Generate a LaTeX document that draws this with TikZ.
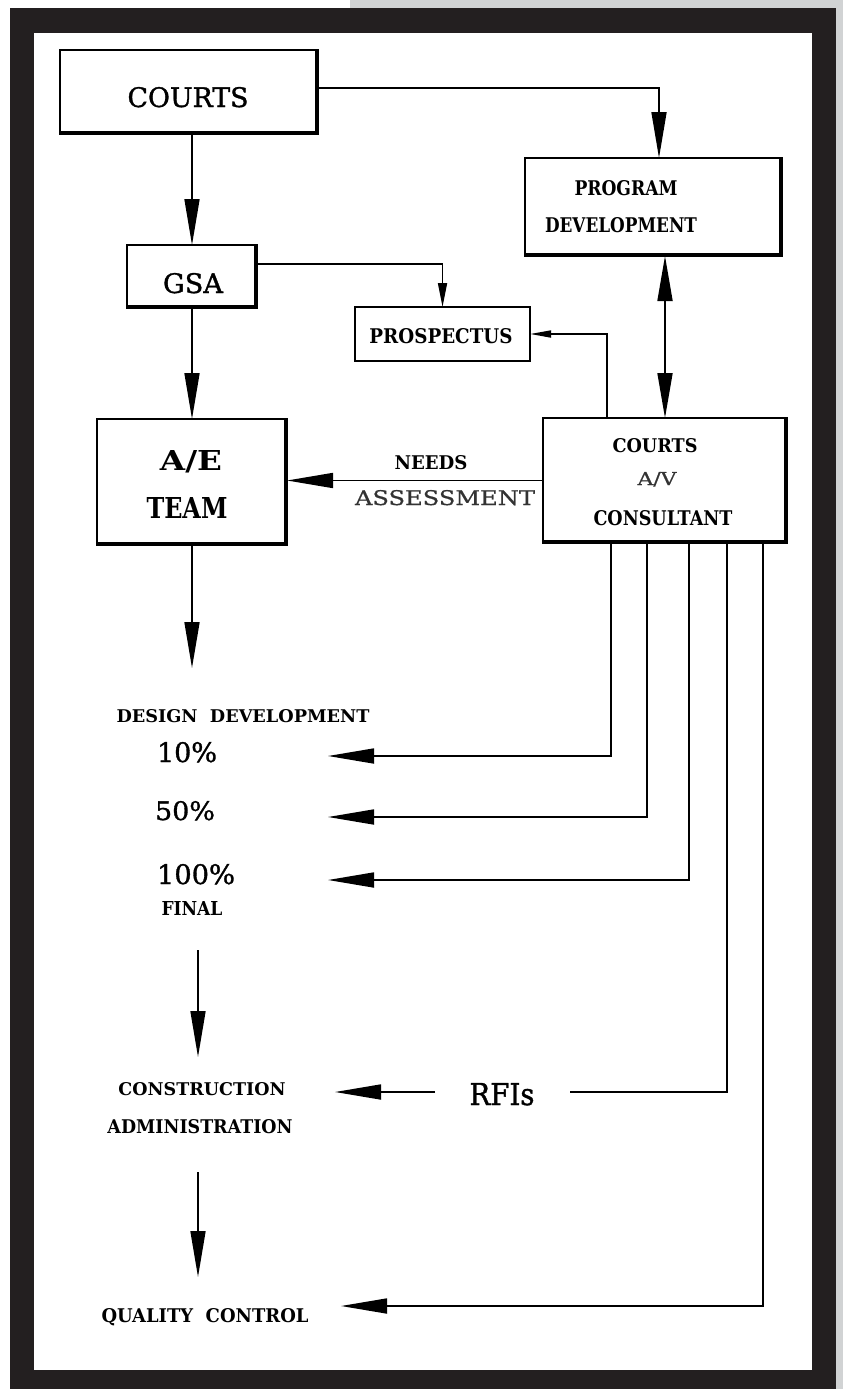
\documentclass[tikz,border=0pt]{standalone}
\usepackage{fontspec}
\setmainfont{DejaVu Serif}
\newfontfamily\medfont[FakeBold=1.2]{DejaVu Serif}
\newfontfamily\semifont[FakeBold=0.6]{DejaVu Serif}
\usetikzlibrary{arrows.meta}
\definecolor{framec}{HTML}{231F20}
\definecolor{stripc}{HTML}{D1D3D4}
\definecolor{softk}{HTML}{333333}
\newcommand\fitt[3]{\resizebox{#1pt}{#2pt}{#3}}
\begin{document}
\begin{tikzpicture}[x=1pt,y=-1pt,
  box/.style={draw, line width=1.6pt, inner sep=0pt, outer sep=0pt},
  lbl/.style={inner sep=0pt, outer sep=0pt, anchor=base},
  conn/.style={line width=1.7pt},
  big/.style={conn, -{Triangle[length=46pt,width=15pt]}},
  bothbig/.style={conn, {Triangle[length=45pt,width=15pt]}-{Triangle[length=45pt,width=15pt]}},
  smallA/.style={conn, -{Triangle[length=24pt,width=9pt]}},
  smallB/.style={conn, -{Triangle[length=21pt,width=7pt]}}
]
\useasboundingbox (0,0) rectangle (843,1389);
% frame
\fill[white] (0,0) rectangle (843,1389);
\fill[stripc] (350,0) rectangle (843,8);
\fill[stripc] (836,0) rectangle (843,1389);
\fill[framec] (10,8) rectangle (836,1389);
\fill[white] (34,33) rectangle (812,1370);

% boxes
\node[box, minimum width=258pt, minimum height=84pt] (courts) at (189,92) {};
\node[box, minimum width=130pt, minimum height=63pt] (gsa) at (192,276.5) {};
\node[box, minimum width=257pt, minimum height=98pt] (pd) at (653.5,207) {};
\node[box, minimum width=175pt, minimum height=54pt] (pros) at (442.5,334) {};
\node[box, minimum width=244pt, minimum height=125pt] (cav) at (665,480.5) {};
\node[box, minimum width=190pt, minimum height=126pt] (ae) at (192,482) {};
\foreach \b in {courts,gsa,pd,cav,ae}
  \draw[line width=4pt] ([xshift=-1.2pt]\b.north east) -- ([xshift=-1.2pt,yshift=1.2pt]\b.south east) -- ([yshift=1.2pt]\b.south west);

% texts
\node[lbl] (courtsT) at (188,107) {\fitt{121}{20}{\medfont COURTS}};
\node[lbl] (gsaT) at (193,293) {\fitt{60}{20}{\medfont GSA}};
\node[lbl] (pdT1) at (626,195) {\fitt{103}{15}{\bfseries PROGRAM}};
\node[lbl] (pdT2) at (621,232) {\fitt{152}{15}{\bfseries DEVELOPMENT}};
\node[lbl] (prosT) at (441,343) {\fitt{143}{15}{\bfseries PROSPECTUS}};
\node[lbl] (cavT1) at (655,452) {\fitt{85}{14}{\bfseries COURTS}};
\node[lbl] (cavT2) at (657,485) {\fitt{39}{13}{\semifont\color{softk}A/V}};
\node[lbl] (cavT3) at (663,525) {\fitt{139}{15}{\bfseries CONSULTANT}};
\node[lbl] (aeT1) at (191,470) {\fitt{62}{20}{\bfseries A/E}};
\node[lbl] (aeT2) at (187,518) {\fitt{81}{21}{\bfseries TEAM}};
\node[lbl] (needs) at (431,469) {\fitt{73}{14}{\bfseries NEEDS}};
\node[lbl] (assess) at (445,505) {\fitt{180}{15}{\semifont\color{softk}ASSESSMENT}};
\node[lbl] (dd) at (243,722) {\fitt{253}{13}{\bfseries DESIGN\ \ DEVELOPMENT}};
\node[lbl] (p10) at (187,762) {\fitt{60}{20}{\medfont 10\%}};
\node[lbl] (p50) at (185,820) {\fitt{60}{19}{\medfont 50\%}};
\node[lbl] (p100) at (196,884) {\fitt{78}{20}{\medfont 100\%}};
\node[lbl] (final) at (192,915) {\fitt{61}{14}{\bfseries FINAL}};
\node[lbl] (cons) at (202,1095) {\fitt{167}{13}{\bfseries CONSTRUCTION}};
\node[lbl] (admin) at (200,1133) {\fitt{185}{14}{\bfseries ADMINISTRATION}};
\node[lbl] (rfis) at (502,1105) {\fitt{65}{22}{\medfont RFIs}};
\node[lbl] (qc) at (205,1322) {\fitt{207}{14}{\bfseries QUALITY\ \ CONTROL}};

% free-end coordinates
\coordinate (aeEnd) at (192,668);
\coordinate (t10) at (328,756);
\coordinate (t50) at (328,817);
\coordinate (t100) at (328,880);
\coordinate (rfR) at (570,1092);
\coordinate (rfL) at (435,1092);
\coordinate (tca) at (335,1092);
\coordinate (tqc) at (341,1306);
\coordinate (d1s) at (198,950);
\coordinate (d1e) at (198,1057);
\coordinate (d2s) at (198,1172);
\coordinate (d2e) at (198,1277);

% connectors
\draw[big] (gsa.north |- courts.south) -- (gsa.north);
\draw[big] ([yshift=4pt]courts.east) -| ([xshift=5.5pt]pd.north);
\draw[smallA] ([yshift=12.5pt]gsa.east) -| (pros.north);
\draw[smallB] ([xshift=-58pt]cav.north) |- (pros.east);
\draw[bothbig] (cav.north |- pd.south) -- (cav.north);
\draw[big] (gsa.south) -- (ae.north);
\draw[big] (cav.west) -- (ae.east |- cav.west);
\draw[big] (ae.south) -- (aeEnd);
\draw[big] ([xshift=-54pt]cav.south) |- (t10);
\draw[big] ([xshift=-18pt]cav.south) |- (t50);
\draw[big] ([xshift=24pt]cav.south) |- (t100);
\draw[conn] ([xshift=62pt]cav.south) |- (rfR);
\draw[big] (rfL) -- (tca);
\draw[big] ([xshift=98pt]cav.south) |- (tqc);
\draw[big] (d1s) -- (d1e);
\draw[big] (d2s) -- (d2e);
\end{tikzpicture}
\end{document}
